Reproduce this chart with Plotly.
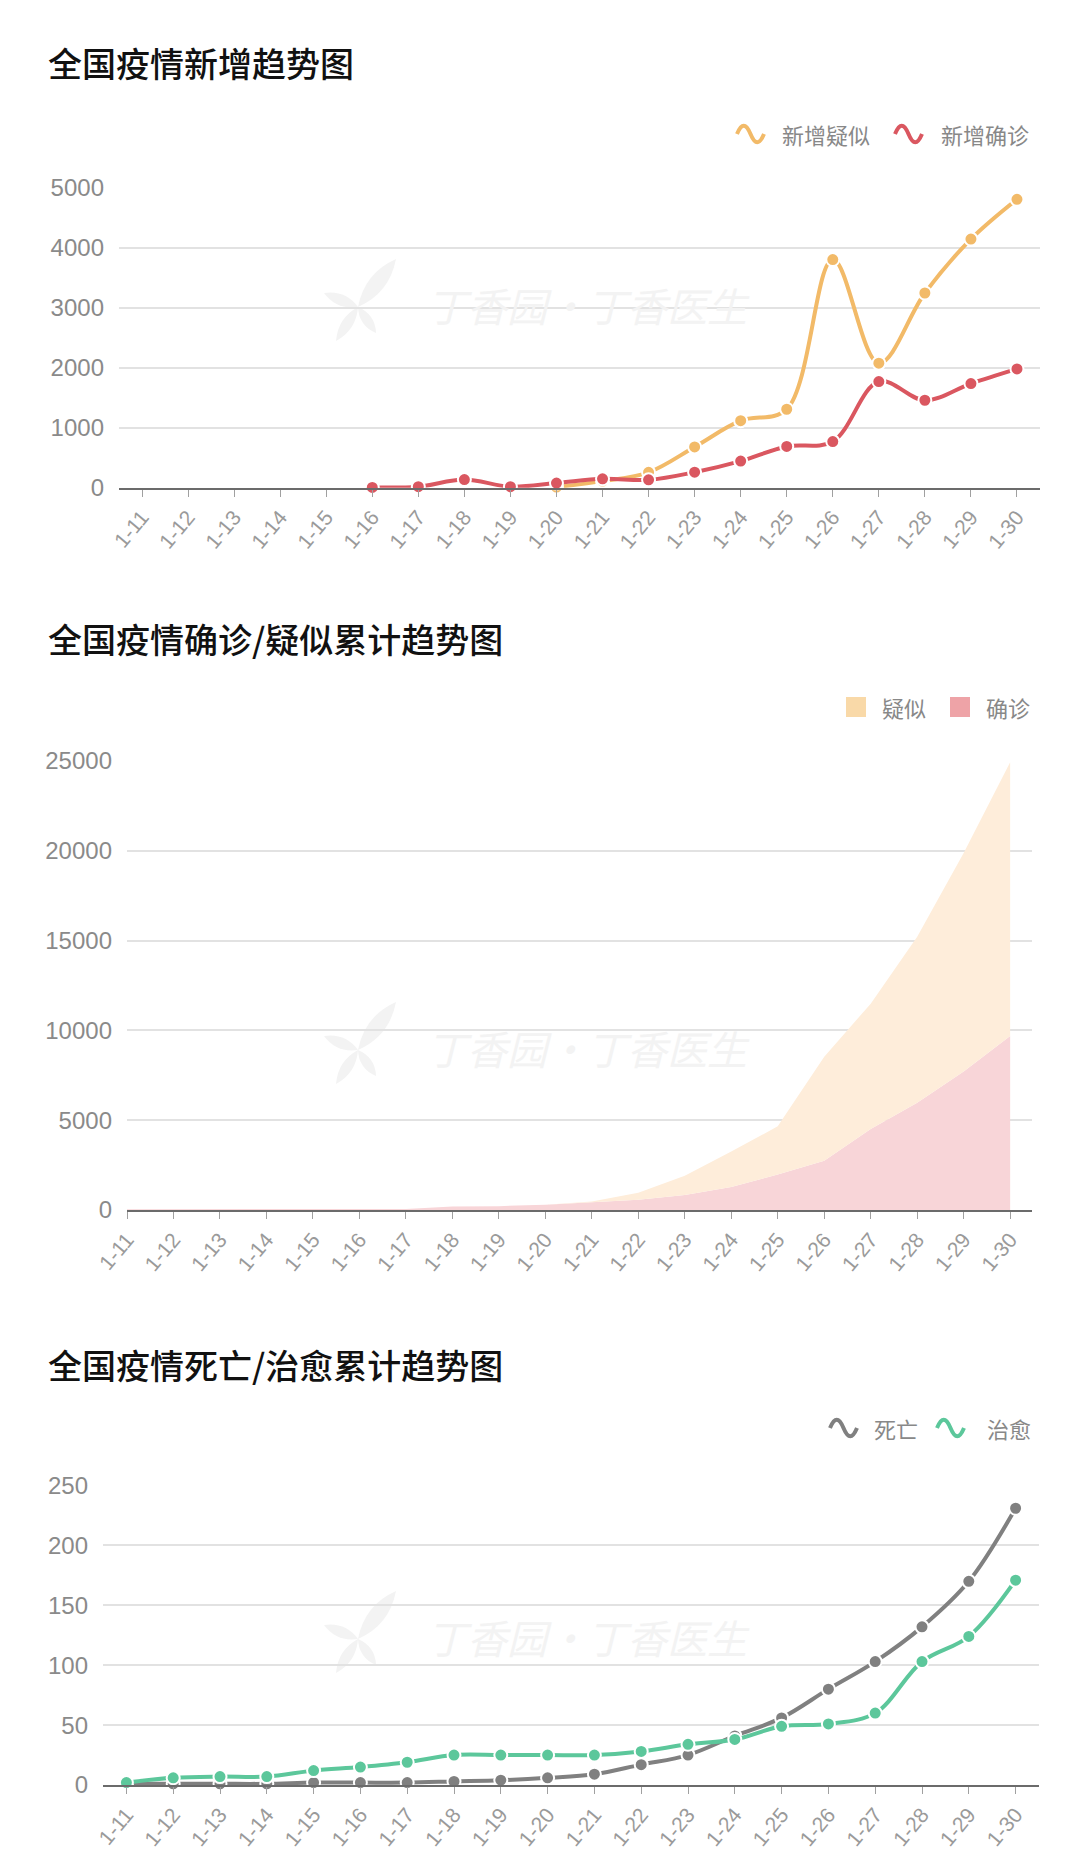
import plotly.graph_objects as go

W, H = 1080, 1873

dates = ["1-11", "1-12", "1-13", "1-14", "1-15", "1-16", "1-17", "1-18", "1-19", "1-20",
         "1-21", "1-22", "1-23", "1-24", "1-25", "1-26", "1-27", "1-28", "1-29", "1-30"]

# Chart 1: daily new
new_suspected = [None, None, None, None, None, None, None, None, None, 10,
                 110, 257, 680, 1118, 1309, 3806, 2077, 3248, 4148, 4812]
new_confirmed = [None, None, None, None, None, 4, 17, 136, 17, 77,
                 149, 131, 259, 444, 688, 769, 1771, 1459, 1737, 1982]

# Chart 2: cumulative (stacked)
cum_confirmed = [41, 41, 41, 41, 41, 45, 62, 198, 215, 291,
                 440, 571, 830, 1287, 1975, 2744, 4515, 5974, 7711, 9692]
cum_suspected = [0, 0, 0, 0, 0, 0, 0, 0, 0, 0,
                 37, 393, 1072, 1965, 2684, 5794, 6973, 9239, 12167, 15238]

# Chart 3: cumulative deaths / cured
deaths = [1, 1, 1, 1, 2, 2, 2, 3, 4, 6,
          9, 17, 25, 41, 56, 80, 103, 132, 170, 231]
cured = [2, 6, 7, 7, 12, 15, 19, 25, 25, 25,
         25, 28, 34, 38, 49, 51, 60, 103, 124, 171]

titles = ["全国疫情新增趋势图", "全国疫情确诊/疑似累计趋势图", "全国疫情死亡/治愈累计趋势图"]

ORANGE = "#F2BA68"
RED = "#DA5760"
GRAY = "#808080"
GREEN = "#5CC79B"
AREA_SUS = "#FEEDDA"
AREA_CON = "#F8D5D8"
BOX_SUS = "#F9D9A8"
BOX_CON = "#EEA3A7"
WM = "#f3f3f3"

CJK = "Noto Sans CJK SC"
NUM = "Liberation Sans, Noto Sans CJK SC"


def px(x):
    return x / W


def py(y):
    return 1 - y / H


fig = go.Figure()

MK = 13
LW = 4

# ---- chart 1 ----
fig.add_trace(go.Scatter(
    x=dates, y=new_suspected, name="新增疑似", mode="lines+markers",
    line=dict(color=ORANGE, width=LW, shape="spline", smoothing=1),
    marker=dict(size=MK, color=ORANGE, line=dict(color="white", width=2)),
    xaxis="x", yaxis="y", cliponaxis=False, showlegend=False))
fig.add_trace(go.Scatter(
    x=dates, y=new_confirmed, name="新增确诊", mode="lines+markers",
    line=dict(color=RED, width=LW, shape="spline", smoothing=1),
    marker=dict(size=MK, color=RED, line=dict(color="white", width=2)),
    xaxis="x", yaxis="y", cliponaxis=False, showlegend=False))

# ---- chart 2 ----
fig.add_trace(go.Scatter(
    x=dates, y=cum_confirmed, name="确诊", mode="lines", stackgroup="s",
    line=dict(width=0, color=AREA_CON), fillcolor=AREA_CON,
    xaxis="x2", yaxis="y2", showlegend=False))
fig.add_trace(go.Scatter(
    x=dates, y=cum_suspected, name="疑似", mode="lines", stackgroup="s",
    line=dict(width=0, color=AREA_SUS), fillcolor=AREA_SUS,
    xaxis="x2", yaxis="y2", showlegend=False))

# ---- chart 3 ----
fig.add_trace(go.Scatter(
    x=dates, y=deaths, name="死亡", mode="lines+markers",
    line=dict(color=GRAY, width=LW, shape="spline", smoothing=1),
    marker=dict(size=MK, color=GRAY, line=dict(color="white", width=2)),
    xaxis="x3", yaxis="y3", cliponaxis=False, showlegend=False))
fig.add_trace(go.Scatter(
    x=dates, y=cured, name="治愈", mode="lines+markers",
    line=dict(color=GREEN, width=LW, shape="spline", smoothing=1),
    marker=dict(size=MK, color=GREEN, line=dict(color="white", width=2)),
    xaxis="x3", yaxis="y3", cliponaxis=False, showlegend=False))


def xaxis_cfg(x0, x1, anchor, rng):
    return dict(
        domain=[px(x0), px(x1)], anchor=anchor, type="category",
        categoryorder="array", categoryarray=dates,
        range=rng, showgrid=False, zeroline=False, automargin=False,
        showline=True, linecolor="#6b6b6b", linewidth=2,
        ticks="outside", ticklen=7, tickwidth=1, tickcolor="#a0a0a0",
        tickangle=-50, tickfont=dict(family=NUM, size=21, color="#9a9a9a"),
        fixedrange=True)


def yaxis_cfg(ytop, ybot, anchor, rng, dtick):
    return dict(
        domain=[py(ybot), py(ytop)], anchor=anchor, range=rng,
        tick0=0, dtick=dtick, tickformat="d", automargin=False,
        showgrid=True, gridcolor="#e2e2e2", gridwidth=1.5,
        zeroline=False, showline=False, ticks="",
        ticklabelstandoff=14,
        tickfont=dict(family=NUM, size=24, color="#8a8a8a"), fixedrange=True)


layout = dict(
    width=W, height=H, margin=dict(l=0, r=0, t=0, b=0, pad=0, autoexpand=False),
    paper_bgcolor="white", plot_bgcolor="rgba(0,0,0,0)",
    showlegend=False,
    xaxis=xaxis_cfg(119, 1040, "y", [-0.5, 19.5]),
    yaxis=yaxis_cfg(188, 487.7, "x", [0, 5000], 1000),
    xaxis2=xaxis_cfg(127, 1032, "y2", [0, 19.47]),
    yaxis2=yaxis_cfg(761, 1210, "x2", [0, 25000], 5000),
    xaxis3=xaxis_cfg(103, 1039, "y3", [-0.5, 19.5]),
    yaxis3=yaxis_cfg(1485.5, 1785, "x3", [0, 250], 50),
)
fig.update_layout(**layout)

annotations = []
shapes = []

# titles
for t, yc in zip(titles, [63, 639, 1364]):
    annotations.append(dict(
        text=t, xref="paper", yref="paper", x=px(46), y=py(yc),
        xanchor="left", yanchor="middle", showarrow=False,
        font=dict(family=CJK, size=34, color="#111111", weight=500)))


def petal(cx, cy, tx, ty, wdt):
    # leaf-shaped petal from (cx,cy) to (cx+tx, cy+ty)
    ex, ey = cx + tx, cy + ty
    nx, ny = -ty, tx
    n = (nx ** 2 + ny ** 2) ** 0.5
    nx, ny = nx / n * wdt, ny / n * wdt
    mx, my = cx + tx * 0.5, cy + ty * 0.5
    p = [(cx, cy), (mx + nx, my + ny), (ex, ey), (mx - nx, my - ny), (cx, cy)]
    q = [(px(a), py(b)) for a, b in p]
    path = "M {0},{1} Q {2},{3} {4},{5} Q {6},{7} {8},{9} Z".format(
        *[v for pt in q for v in pt])
    return dict(type="path", xref="paper", yref="paper", path=path,
                fillcolor=WM, line=dict(width=0), layer="below")


# watermarks
for yc in [305, 1048, 1637]:
    annotations.append(dict(
        text="丁香园·丁香医生", xref="paper", yref="paper", x=px(588), y=py(yc),
        xanchor="center", yanchor="middle", showarrow=False,
        font=dict(family=CJK, size=40, color=WM, style="italic")))
    cx, cy = 358, yc + 2
    shapes.append(petal(cx, cy, 38, -48, 16))
    shapes.append(petal(cx, cy, -34, -14, 11))
    shapes.append(petal(cx, cy, -22, 34, 11))
    shapes.append(petal(cx, cy, 18, 26, 10))


def wave(x0, yc, color, w=27, h=11):
    xs = [x0, x0 + w * 0.17, x0 + w * 0.33, x0 + w * 0.5,
          x0 + w * 0.67, x0 + w * 0.83, x0 + w]
    ys = [yc, yc - h, yc - h, yc, yc + h, yc + h, yc]
    p = [(px(a), py(b)) for a, b in zip(xs, ys)]
    path = "M {0},{1} C {2},{3} {4},{5} {6},{7} C {8},{9} {10},{11} {12},{13}".format(
        *[v for pt in p for v in pt])
    return dict(type="path", xref="paper", yref="paper", path=path,
                line=dict(color=color, width=4), layer="above")


def legend_text(txt, x0, yc):
    return dict(text=txt, xref="paper", yref="paper", x=px(x0), y=py(yc),
                xanchor="left", yanchor="middle", showarrow=False,
                font=dict(family=CJK, size=22, color="#888888"))


# chart 1 legend
shapes.append(wave(737, 134, ORANGE))
annotations.append(legend_text("新增疑似", 780, 134))
shapes.append(wave(895, 134, RED))
annotations.append(legend_text("新增确诊", 939, 134))

# chart 2 legend
for (x0, col) in [(846, BOX_SUS), (950, BOX_CON)]:
    shapes.append(dict(type="rect", xref="paper", yref="paper",
                       x0=px(x0), x1=px(x0 + 20), y0=py(717), y1=py(697),
                       fillcolor=col, line=dict(width=0)))
annotations.append(legend_text("疑似", 880, 707))
annotations.append(legend_text("确诊", 984, 707))

# chart 3 legend
shapes.append(wave(830, 1428, GRAY))
annotations.append(legend_text("死亡", 872, 1428))
shapes.append(wave(937, 1428, GREEN))
annotations.append(legend_text("治愈", 985, 1428))

fig.update_layout(annotations=annotations, shapes=shapes)

fig.write_html("out.html", config={"displayModeBar": False})
